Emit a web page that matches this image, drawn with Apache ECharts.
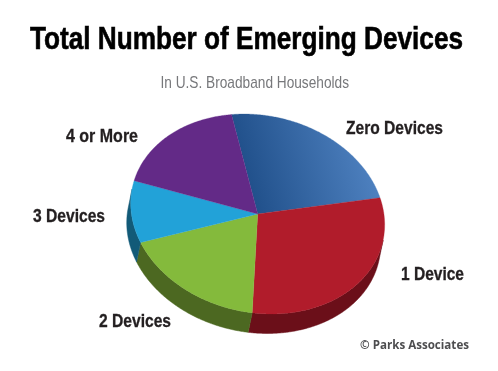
<!DOCTYPE html>
<html><head><meta charset="utf-8">
<style>html,body{margin:0;padding:0;background:#fff}#c{width:498px;height:371px}</style>
<script src="https://cdn.jsdelivr.net/npm/echarts@6/dist/echarts.min.js"></script>
</head><body><div id="c"></div>
<script>
const categories = ['Zero Devices', '1 Device', '2 Devices', '3 Devices', '4 or More'];
const shares = [24, 30, 18, 10, 18];
const faceColors = ['#2f62a2', '#b11c2b', '#84ba3c', '#22a2d8', '#632a87'];
const wallColors = ['#1b3b66', '#6b0f19', '#4c6821', '#125a78', '#3c1a52'];

const chart = echarts.init(document.getElementById('c'), null, {renderer: 'canvas'});
const total = shares.reduce((a, b) => a + b, 0);
const E = {cx: 257.7, cy: 214, a: 128.1, b: 98.5, tilt: 12 * Math.PI / 180, startDeg: 338.8, ox: -4, oy: 19.5};
function pt(deg) {
  const t = deg * Math.PI / 180, u = E.a * Math.sin(t), v = -E.b * Math.cos(t);
  return [E.cx + u * Math.cos(E.tilt) - v * Math.sin(E.tilt), E.cy + u * Math.sin(E.tilt) + v * Math.cos(E.tilt)];
}
function wallVisible(deg) {
  const p = pt(deg), q = pt(deg + 0.5), tx = q[0] - p[0], ty = q[1] - p[1];
  return ty * E.ox - tx * E.oy > 0;
}
function renderItem(params, api) {
  const i = params.dataIndex;
  let before = 0;
  for (let k = 0; k < i; k++) before += shares[k];
  const s = E.startDeg + before / total * 360, e = s + api.value(0) / total * 360;
  const arc = [], vis = [];
  for (let d = s; d < e; d += 0.5) { const p = pt(d); arc.push(p); if (wallVisible(d)) vis.push(p); }
  const last = pt(e); arc.push(last); if (wallVisible(e)) vis.push(last);
  const children = [];
  if (vis.length > 1) {
    const low = vis.map(p => [p[0] + E.ox, p[1] + E.oy]).reverse();
    children.push({type: 'polygon', shape: {points: vis.concat(low)},
      style: {fill: wallColors[i], stroke: wallColors[i], lineWidth: 0.5}});
  }
  const fill = i === 0
    ? new echarts.graphic.LinearGradient(235, 205, 378, 165, [{offset: 0, color: '#1a4983'}, {offset: 1, color: '#5083c2'}], true)
    : faceColors[i];
  children.push({type: 'polygon', shape: {points: [[E.cx, E.cy]].concat(arc)},
    style: {fill: fill, stroke: fill, lineWidth: 0.3}});
  return {type: 'group', children};
}
const ctx = document.createElement('canvas').getContext('2d');
function fitted(text, left, right, midY, font, fontWeight, fontSize, fill, heavy) {
  ctx.font = fontWeight + ' ' + fontSize + 'px ' + font;
  const w = ctx.measureText(text).width;
  return {type: 'text', x: left, y: midY, scaleX: (right - left) / w,
    style: {text, font: fontWeight + ' ' + fontSize + 'px ' + font, fill, textAlign: 'left', textVerticalAlign: 'middle',
      stroke: heavy ? fill : null, lineWidth: heavy || 0}};
}
const sans = '"Liberation Sans",sans-serif';
const labelSpan = {
  'Zero Devices': [346, 443, 129], '1 Device': [401, 464, 275], '2 Devices': [99, 171, 322],
  '3 Devices': [33, 105, 217], '4 or More': [66, 138, 137]
};
chart.setOption({
  animation: false,
  series: [{type: 'custom', coordinateSystem: 'none', renderItem, silent: true,
    data: shares.map((v, i) => ({name: categories[i], value: [v]}))}],
  graphic: [
    fitted('Total Number of Emerging Devices', 30, 463, 40, sans, 'bold', 32, '#000', 0.6),
    fitted('In U.S. Broadband Households', 160.5, 349, 83, sans, 'normal', 17, '#77787b')
  ].concat(categories.map(n => fitted(n, labelSpan[n][0], labelSpan[n][1], labelSpan[n][2], sans, 'bold', 18, '#231f20', 0.3)))
   .concat([fitted('© Parks Associates', 360, 469, 346, '"Open Sans",sans-serif', 'bold', 11.5, '#4d4d4f')])
});
</script></body></html>
